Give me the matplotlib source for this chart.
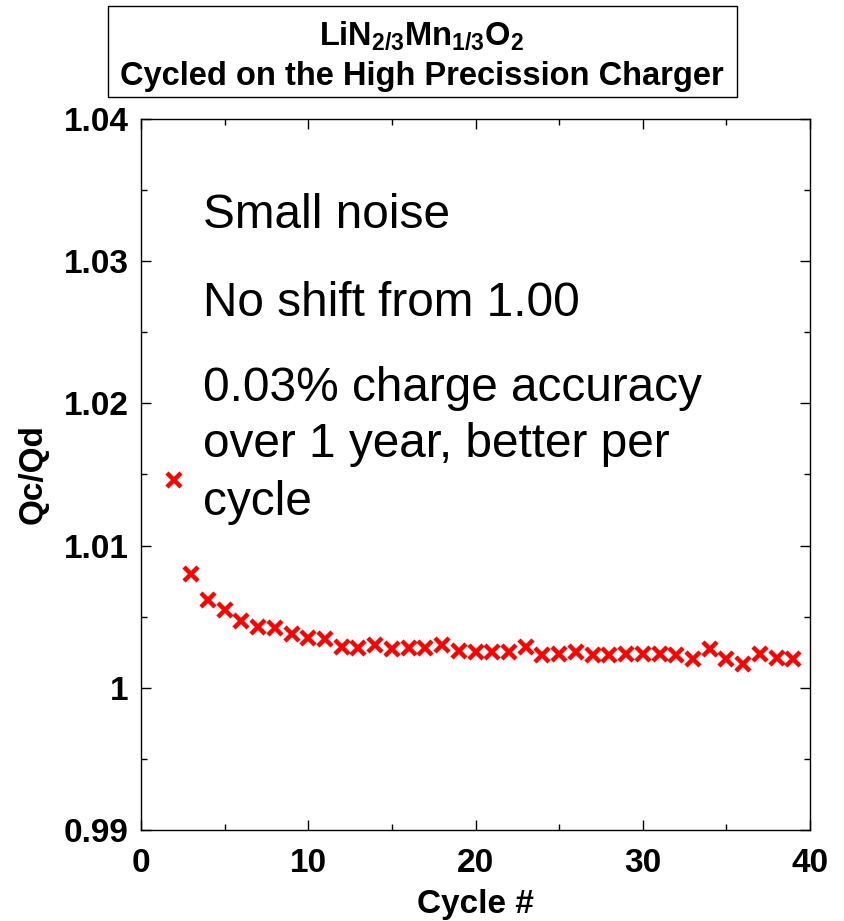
import matplotlib.pyplot as plt
from matplotlib.patches import Rectangle

plt.rcParams["font.family"] = ["Liberation Sans", "DejaVu Sans"]
plt.rcParams["mathtext.fontset"] = "custom"
plt.rcParams["mathtext.bf"] = "Liberation Sans:bold"
plt.rcParams["mathtext.rm"] = "Liberation Sans:bold"

# Qc/Qd ratio per cycle
cycle = list(range(2, 40))
qc_qd = [1.0146, 1.0080, 1.0062, 1.0055, 1.0047, 1.0043, 1.0042, 1.0038,
         1.0035, 1.0034, 1.0029, 1.0028, 1.0030, 1.0027, 1.0028, 1.0028,
         1.0030, 1.0026, 1.0025, 1.0025, 1.0025, 1.0029, 1.0023, 1.0024,
         1.0025, 1.0023, 1.0023, 1.0024, 1.0024, 1.0024, 1.0023, 1.0020,
         1.0027, 1.0020, 1.0017, 1.0024, 1.0021, 1.0020]

notes = ["Small noise", "No shift from 1.00",
         "0.03% charge accuracy", "over 1 year, better per", "cycle"]

fig = plt.figure(figsize=(8.44, 9.21), dpi=100)
ax = fig.add_axes([0.1671, 0.0988, 0.7927, 0.772])

ax.plot(cycle, qc_qd, linestyle="none", marker="x", color="#ff0000",
        markersize=9.5, markeredgewidth=3.2)

ax.set_xlim(0, 40)
ax.set_ylim(0.99, 1.04)
ax.set_xticks([0, 10, 20, 30, 40])
ax.set_xticks([5, 15, 25, 35], minor=True)
ax.set_yticks([0.99, 1.00, 1.01, 1.02, 1.03, 1.04])
ax.set_yticks([0.995, 1.005, 1.015, 1.025, 1.035], minor=True)
ax.set_yticklabels(["0.99", "1", "1.01", "1.02", "1.03", "1.04"])

ax.tick_params(which="both", direction="in", top=True, right=True, width=1)
ax.tick_params(which="major", length=7.5, labelsize=24, pad=9)
ax.tick_params(which="minor", length=4.5)
ax.tick_params(axis="x", which="major", pad=13)
for lbl in ax.get_xticklabels() + ax.get_yticklabels():
    lbl.set_fontweight("bold")
for sp in ax.spines.values():
    sp.set_linewidth(1)

ax.set_xlabel("Cycle #", fontsize=24, fontweight="bold", labelpad=7)
ax.set_ylabel("Qc/Qd", fontsize=24, fontweight="bold", labelpad=11)

# annotation lines, baselines in data units
note_y = [1.03232, 1.02615, 1.02016, 1.01620, 1.01215]
for txt, y in zip(notes, note_y):
    ax.text(3.7, y, txt, fontsize=34.4, va="baseline", ha="left")

# title box above the axes
fig.add_artist(Rectangle((108 / 844, 1 - 97 / 921), 629 / 844, 91 / 921,
                         transform=fig.transFigure, fill=False,
                         edgecolor="black", linewidth=1))
fig.text(422 / 844, 1 - 36 / 921, r"$\mathbf{LiN_{2/3}Mn_{1/3}O_2}$",
         fontsize=23.5, ha="center", va="center")
fig.text(422 / 844, 1 - 76 / 921, "Cycled on the High Precission Charger",
         fontsize=23.5, fontweight="bold", ha="center", va="center")

fig.savefig("out.png", dpi=100)
plt.close(fig)
